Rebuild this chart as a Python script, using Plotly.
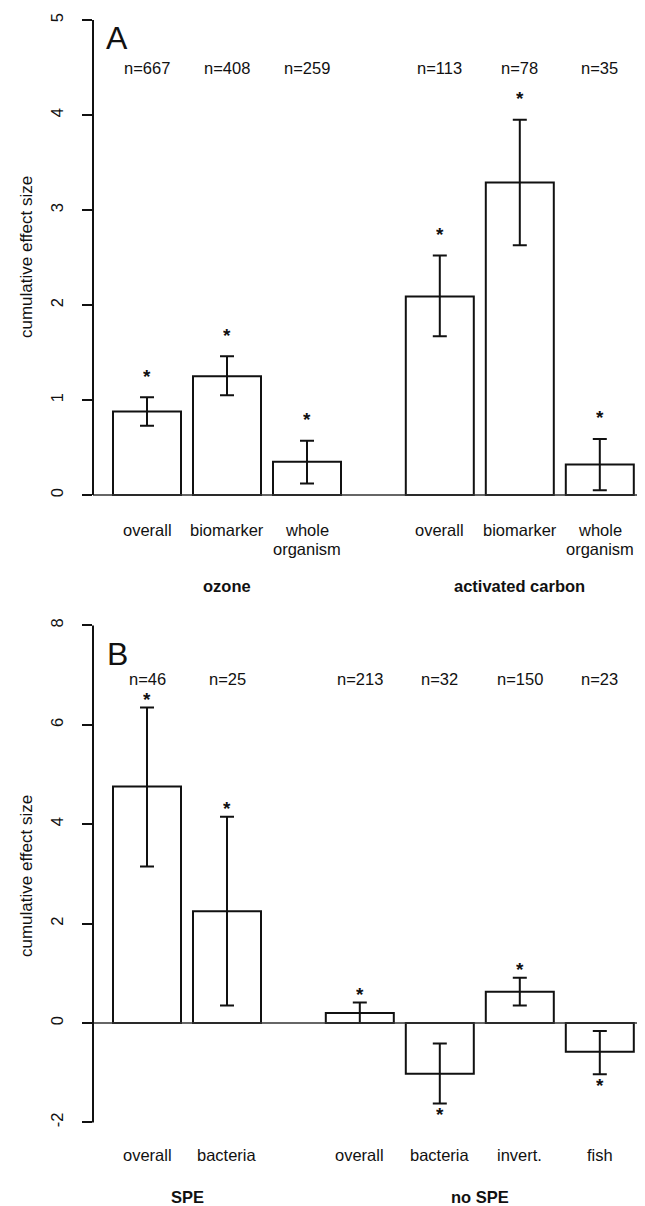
import plotly.graph_objects as go

# The page adds an 8px body margin, so the figure is drawn 8px smaller and all
# pixel positions below (measured on the reference page) are shifted by OFF.
OFF = 8
PAGE_W, PAGE_H = 645, 1206
W, H = PAGE_W - OFF, PAGE_H - OFF
FONT = "Liberation Sans, Arial, sans-serif"

# ---------------- Panel A data ----------------
a_groups = ["ozone", "activated carbon"]
a_labels = ["overall", "biomarker", "whole\norganism", "overall", "biomarker", "whole\norganism"]
a_group_of = [0, 0, 0, 1, 1, 1]
a_effect = [0.88, 1.25, 0.35, 2.09, 3.29, 0.32]
a_ci_low = [0.73, 1.05, 0.12, 1.67, 2.63, 0.05]
a_ci_high = [1.03, 1.46, 0.57, 2.52, 3.95, 0.59]
a_n = [667, 408, 259, 113, 78, 35]
a_sig = [True, True, True, True, True, True]
a_yticks = [0, 1, 2, 3, 4, 5]

# ---------------- Panel B data ----------------
b_groups = ["SPE", "no SPE"]
b_labels = ["overall", "bacteria", "overall", "bacteria", "invert.", "fish"]
b_group_of = [0, 0, 1, 1, 1, 1]
b_effect = [4.76, 2.25, 0.20, -1.02, 0.63, -0.58]
b_ci_low = [3.15, 0.35, 0.00, -1.62, 0.35, -1.03]
b_ci_high = [6.35, 4.15, 0.41, -0.41, 0.91, -0.16]
b_n = [46, 25, 213, 32, 150, 23]
b_sig = [True, True, True, True, True, True]
b_yticks = [-2, 0, 2, 4, 6, 8]

# ---------------- layout helpers ----------------
GROUP_GAP = 0.66
BAR_W = 0.85
X_RANGE = [-0.675, 6.225]
AXIS_PX = 93               # page x of the y axis line
LEFT = AXIS_PX - OFF       # figure margin


def positions(group_of):
    return [i + GROUP_GAP * g for i, g in enumerate(group_of)]


def pp(px):
    """page y pixel -> paper fraction"""
    return 1 - (px - OFF) / H


def px_x(px):
    """page x pixel -> paper fraction"""
    return (px - AXIS_PX) / (W - LEFT)


def domain(zero_px, ppu, lo, hi):
    top = zero_px - ppu * hi
    bot = zero_px - ppu * lo
    return [max(0.0, pp(bot)), min(1.0, pp(top))]


A_ZERO, A_PPU, A_RANGE = 495, 95.0, [-1.0, 5.1]
B_ZERO, B_PPU, B_RANGE = 1023, 49.7, [-3.4, 8.5]

fig = go.Figure()
annotations = []
shapes = []

panels = [
    dict(ax="", groups=a_groups, labels=a_labels, group_of=a_group_of, effect=a_effect,
         lo=a_ci_low, hi=a_ci_high, n=a_n, sig=a_sig, yticks=a_yticks, zero=A_ZERO,
         ppu=A_PPU, rng=A_RANGE, letter="A", letter_px=(117, 38), n_px=68,
         lab_px=530, lab_step=19, grp_px=586, title_px=257),
    dict(ax="2", groups=b_groups, labels=b_labels, group_of=b_group_of, effect=b_effect,
         lo=b_ci_low, hi=b_ci_high, n=b_n, sig=b_sig, yticks=b_yticks, zero=B_ZERO,
         ppu=B_PPU, rng=B_RANGE, letter="B", letter_px=(117, 654), n_px=679,
         lab_px=1155, lab_step=19, grp_px=1197, title_px=876),
]

TXT = dict(size=16.5, family=FONT, color="#111")

for p in panels:
    xs = positions(p["group_of"])
    up = [h - e for h, e in zip(p["hi"], p["effect"])]
    dn = [e - l for e, l in zip(p["effect"], p["lo"])]
    xref = "x" + p["ax"]
    yref = "y" + p["ax"]
    fig.add_trace(go.Bar(
        x=xs, y=p["effect"], width=BAR_W, xaxis=xref, yaxis=yref,
        marker=dict(color="white", line=dict(color="#111", width=2)),
        error_y=dict(type="data", symmetric=False, array=up, arrayminus=dn,
                     color="#111", thickness=2, width=7),
        showlegend=False, hoverinfo="skip",
    ))
    # zero line
    shapes.append(dict(type="line", xref=xref + " domain", yref=yref, x0=0, x1=1, y0=0, y1=0,
                       line=dict(color="#333", width=1.5), layer="above"))
    # y axis line (only between extreme ticks)
    shapes.append(dict(type="line", xref=xref + " domain", yref=yref, x0=0, x1=0,
                       y0=min(p["yticks"]), y1=max(p["yticks"]),
                       line=dict(color="#111", width=2)))
    # n labels
    for x, n in zip(xs, p["n"]):
        annotations.append(dict(x=x, xref=xref, y=pp(p["n_px"]), yref="paper", text=f"n={n}",
                                showarrow=False, font=TXT,
                                xanchor="center", yanchor="middle"))
    # significance stars
    for x, e, l, h, s in zip(xs, p["effect"], p["lo"], p["hi"], p["sig"]):
        if not s:
            continue
        if e >= 0:
            y, shift = h + 0.29, -6
        else:
            y, shift = l - 0.18, -2
        annotations.append(dict(x=x, xref=xref, y=y, yref=yref, text="<b>*</b>", showarrow=False,
                                font=dict(size=19, family=FONT, color="#111"), height=12,
                                xanchor="center", yanchor="middle", yshift=shift))
    # category labels
    for x, lab in zip(xs, p["labels"]):
        for k, line in enumerate(lab.split("\n")):
            annotations.append(dict(x=x, xref=xref, y=pp(p["lab_px"] + k * p["lab_step"]),
                                    yref="paper", text=line, showarrow=False, font=TXT,
                                    xanchor="center", yanchor="middle"))
    # group labels
    for g, name in enumerate(p["groups"]):
        gx = [x for x, gg in zip(xs, p["group_of"]) if gg == g]
        annotations.append(dict(x=(min(gx) + max(gx)) / 2, xref=xref, y=pp(p["grp_px"]),
                                yref="paper", text=f"<b>{name}</b>", showarrow=False,
                                font=TXT, xanchor="center", yanchor="middle"))
    # panel letter
    annotations.append(dict(x=px_x(p["letter_px"][0]), xref="paper",
                            y=pp(p["letter_px"][1]), yref="paper", text=p["letter"],
                            showarrow=False, font=dict(size=32, family=FONT, color="#111"),
                            xanchor="center", yanchor="middle"))
    # y-axis title
    annotations.append(dict(x=px_x(26), xref="paper", y=pp(p["title_px"]),
                            yref="paper", text="cumulative effect size", textangle=-90,
                            showarrow=False, font=dict(size=17, family=FONT, color="#111"),
                            xanchor="center", yanchor="middle"))

axis_x = dict(range=X_RANGE, visible=False, showgrid=False, zeroline=False)


def axis_y(p):
    return dict(range=p["rng"], domain=domain(p["zero"], p["ppu"], *p["rng"]),
                tickmode="array", tickvals=p["yticks"], ticktext=[str(t) for t in p["yticks"]],
                ticks="outside", ticklen=10, tickwidth=2, tickcolor="#111",
                tickangle=-90, tickfont=dict(size=16.5, family=FONT, color="#111"),
                ticklabelstandoff=12,
                showline=False, showgrid=False, zeroline=False)


fig.update_layout(
    width=W, height=H,
    margin=dict(l=LEFT, r=0, t=0, b=0),
    paper_bgcolor="white", plot_bgcolor="white",
    xaxis=dict(axis_x, anchor="y"),
    xaxis2=dict(axis_x, anchor="y2"),
    yaxis=dict(axis_y(panels[0]), anchor="x"),
    yaxis2=dict(axis_y(panels[1]), anchor="x2"),
    barmode="overlay",
    annotations=annotations,
    shapes=shapes,
    showlegend=False,
)

fig.write_html("out.html")
